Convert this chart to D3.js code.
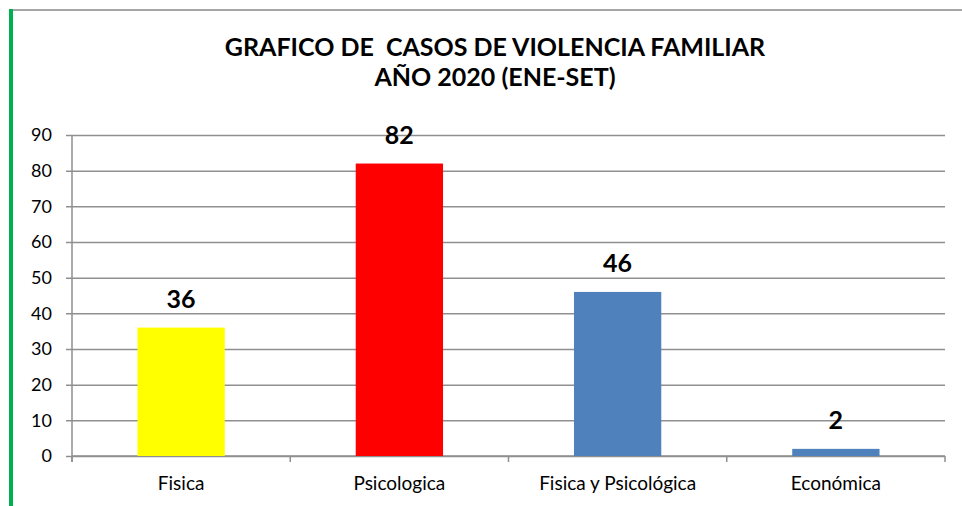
<!DOCTYPE html>
<html>
<head>
<meta charset="utf-8">
<script src="https://cdn.jsdelivr.net/npm/d3@7"></script>
<style>
  body { margin: 0; background: #fff; }
  svg { display: block; }
</style>
</head>
<body>
<script>
// data
const categories = ['Fisica', 'Psicologica', 'Fisica y Psicológica', 'Económica'];
const casos = [36, 82, 46, 2];
const barColors = ['#FFFF00', '#FF0000', '#4F81BD', '#4F81BD'];
const yTicks = [0, 10, 20, 30, 40, 50, 60, 70, 80, 90];
const titleLines = ['GRAFICO DE  CASOS DE VIOLENCIA FAMILIAR', 'AÑO 2020 (ENE-SET)'];

const svgWidth = 962, svgHeight = 506;
const margin = { top: 135, right: 17, bottom: 50, left: 72 },
  width = svgWidth - margin.left - margin.right,
  height = svgHeight - margin.top - margin.bottom;

const svg = d3.select('body').append('svg')
  .attr('width', svgWidth)
  .attr('height', svgHeight);

// frame
svg.append('line')
  .attr('x1', 13).attr('x2', svgWidth).attr('y1', 10).attr('y2', 10)
  .attr('stroke', '#a6a6a6').attr('stroke-width', 2);
svg.append('line')
  .attr('x1', 11).attr('x2', 11).attr('y1', 9).attr('y2', svgHeight)
  .attr('stroke', '#00B050').attr('stroke-width', 4);

// title
svg.append('text')
  .attr('x', 495)
  .attr('text-anchor', 'middle')
  .style('font-family', 'Lato, "Open Sans", sans-serif')
  .style('font-weight', 'bold')
  .style('font-size', '25px')
  .style('white-space', 'pre')
  .selectAll('tspan').data(titleLines).enter().append('tspan')
  .attr('x', 495)
  .attr('y', (d, i) => 56 + i * 30)
  .text(d => d);

const x = d3.scaleBand().domain(categories).range([0, width]).paddingInner(0.6).paddingOuter(0.3);
const xEdge = d3.scaleLinear().domain([0, categories.length]).range([0, width]);
const y = d3.scaleLinear().domain([0, 90]).range([height, 0]);

const g = svg.append('g').attr('transform', `translate(${margin.left},${margin.top})`);

// gridlines + y axis
g.append('g')
  .call(d3.axisLeft(y).tickValues(yTicks).tickSize(-width).tickSizeOuter(0).tickPadding(20))
  .call(a => a.select('.domain').remove())
  .call(a => a.selectAll('.tick line').attr('stroke', '#8f8f8f').attr('stroke-width', 1.5).attr('x1', -6))
  .call(a => a.selectAll('.tick text')
    .style('font-family', 'Lato, "Open Sans", sans-serif')
    .style('font-size', '18px').attr('fill', '#000'));

g.append('line')
  .attr('x1', 0).attr('x2', 0).attr('y1', 0).attr('y2', height + 6)
  .attr('stroke', '#8f8f8f').attr('stroke-width', 1.5);

// x axis
const xAxis = g.append('g').attr('transform', `translate(0,${height})`);
xAxis.append('line')
  .attr('x1', 0).attr('x2', width)
  .attr('stroke', '#8f8f8f').attr('stroke-width', 1.5);
xAxis.selectAll('line.edge').data(d3.range(categories.length + 1)).enter().append('line')
  .attr('class', 'edge')
  .attr('x1', d => xEdge(d)).attr('x2', d => xEdge(d))
  .attr('y1', 0).attr('y2', 6)
  .attr('stroke', '#8f8f8f').attr('stroke-width', 1.5);
xAxis.selectAll('text').data(categories).enter().append('text')
  .attr('x', d => x(d) + x.bandwidth() / 2)
  .attr('y', 34)
  .attr('text-anchor', 'middle')
  .style('font-family', 'Lato, "Open Sans", sans-serif')
  .style('font-size', '19px')
  .text(d => d);

// bars
g.selectAll('rect.bar').data(casos).enter().append('rect')
  .attr('class', 'bar')
  .attr('x', (d, i) => x(categories[i]))
  .attr('y', d => y(d))
  .attr('width', x.bandwidth())
  .attr('height', d => height - y(d))
  .attr('fill', (d, i) => barColors[i]);

// value labels
g.selectAll('text.val').data(casos).enter().append('text')
  .attr('class', 'val')
  .attr('x', (d, i) => x(categories[i]) + x.bandwidth() / 2)
  .attr('y', d => y(d) - 20)
  .attr('text-anchor', 'middle')
  .style('font-family', 'Lato, "Open Sans", sans-serif')
  .style('font-weight', 'bold')
  .style('font-size', '25px')
  .text(d => d);
</script>
</body>
</html>
